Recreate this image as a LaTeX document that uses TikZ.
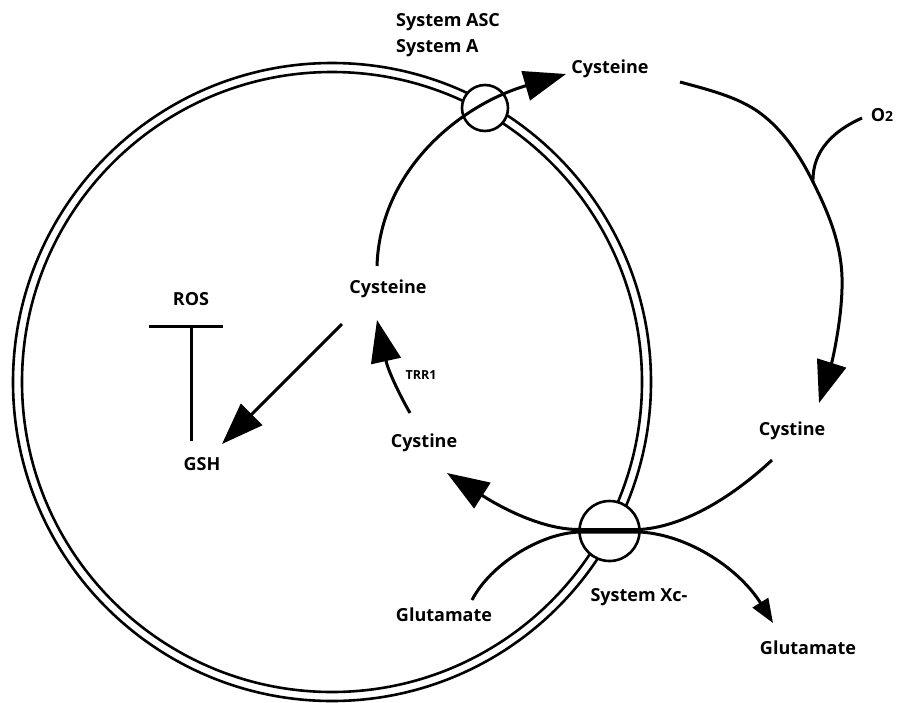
\documentclass[tikz,border=0pt]{standalone}
\usepackage{fontspec}
\setmainfont{Open Sans}
\usetikzlibrary{arrows.meta}
\begin{document}
\begin{tikzpicture}[x=1pt,y=-1pt,
  lbl/.style={font=\fontsize{18}{21}\selectfont\bfseries, inner sep=0pt},
  smalllbl/.style={font=\fontsize{12.5}{14}\selectfont\bfseries, inner sep=0pt},
  memb/.style={line width=2.6pt},
  flow/.style={line width=3pt},
  bigtip/.style={-{Triangle[length=42pt,width=30pt]}},
  smalltip/.style={-{Triangle[length=24pt,width=18pt]}},
  transporter/.style={circle, draw, line width=2.6pt, fill=white, inner sep=0pt}
]
\useasboundingbox (0,0) rectangle (897,702);
% membrane
\draw[memb] (332,382) circle[radius=319];
\draw[memb] (332,382) circle[radius=310];
% transporters
\node[transporter, minimum size=46pt] (asc) at (485,108) {};
\node[transporter, minimum size=60pt] (xc) at (609.5,531) {};
% labels
\node[lbl, anchor=west] (sysasc) at (396,22) {System ASC};
\node[lbl, anchor=west] (sysa) at (396,48) {System A};
\node[lbl] (cysout) at (610,69) {Cysteine};
\node[lbl] (o2) at (882,115) {O{\fontsize{14}{14}\selectfont 2}};
\node[lbl] (cystout) at (792,431) {Cystine};
\node[lbl] (gluout) at (808,648) {Glutamate};
\node[lbl] (sysxc) at (639,597) {System Xc-};
\node[lbl] (gluin) at (444,615) {Glutamate};
\node[lbl] (cystin) at (424,443) {Cystine};
\node[lbl] (cysin) at (388,289) {Cysteine};
\node[lbl] (ros) at (191,299) {ROS};
\node[lbl] (gsh) at (202,464) {GSH};
\node[smalllbl] (trr) at (421,375) {TRR1};
% connector endpoints
\coordinate (cysinTop) at (377,266);
\coordinate (cysoutTip) at (566,74);
\coordinate (cysoutStart) at (680,82);
\coordinate (cystoutTip) at (819,403);
\coordinate (o2Start) at (862,118);
\coordinate (o2Join) at (813,182);
\coordinate (cystoutStart) at (772,460);
\coordinate (xcR1) at (640,529.5);
\coordinate (xcL1) at (580,529.5);
\coordinate (cystinTip) at (447,473);
\coordinate (gluinStart) at (472,600);
\coordinate (xcL2) at (580,532);
\coordinate (xcR2) at (640,532);
\coordinate (gluoutTip) at (773,623);
\coordinate (cystinTop) at (410,413);
\coordinate (cysinTip) at (377,320);
\coordinate (cysinLow) at (342,324);
\coordinate (gshTip) at (222,444);
\coordinate (barL) at (149,326);
\coordinate (barR) at (223,326);
\coordinate (barM) at (191,326);
\coordinate (gshTop) at (191,441);
% System ASC import
\draw[flow, bigtip] (cysinTop) .. controls (380,170) and (460,105) .. (cysoutTip);
% oxidation outside
\draw[flow, bigtip] (cysoutStart) .. controls (706.7,89.3) and (738,96.7) .. (760,113)
  .. controls (782,129.3) and (798.3,152.7) .. (812,180)
  .. controls (825.7,207.3) and (840.8,239.8) .. (842,277)
  .. controls (843.2,314.2) and (832.3,361) .. (cystoutTip);
\draw[flow] (o2Start) .. controls (835,130) and (812,150) .. (o2Join);
% System Xc- cystine import
\draw[flow, bigtip] (cystoutStart) .. controls (740,490) and (690,526) .. (xcR1)
  -- (xcL1) .. controls (545,530) and (505,510) .. (cystinTip);
% glutamate export
\draw[flow, smalltip] (gluinStart) .. controls (490,565) and (540,533) .. (xcL2)
  -- (xcR2) .. controls (690,535) and (740,570) .. (gluoutTip);
% TRR1 reduction
\draw[flow, bigtip] (cystinTop) .. controls (398,392) and (388,370) .. (cysinTip);
% cysteine to GSH
\draw[flow, bigtip] (cysinLow) -- (gshTip);
% GSH inhibits ROS
\draw[flow] (barL) -- (barR);
\draw[flow] (barM) -- (gshTop);
\end{tikzpicture}
\end{document}
